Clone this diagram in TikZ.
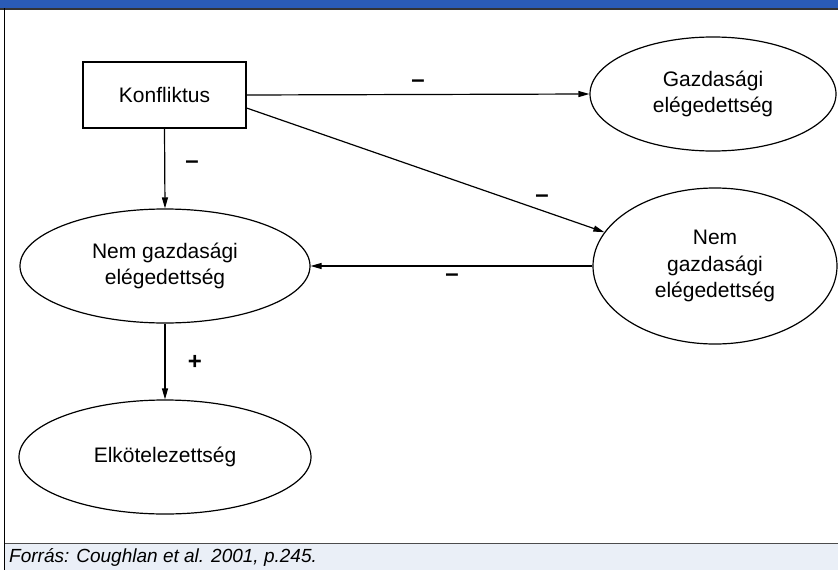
\documentclass[tikz,border=0pt]{standalone}
\usepackage{fontspec}
\setmainfont{Liberation Sans}
\usetikzlibrary{shapes.geometric,arrows.meta}
\definecolor{topblue}{HTML}{2A5BB6}
\definecolor{capbg}{HTML}{EAEFF7}
\tikzset{
  box/.style={draw, line width=1.2pt, rectangle, inner sep=0pt, minimum width=163pt, minimum height=66pt, font=\fontsize{21}{26}\selectfont},
  oval/.style={draw, line width=1.2pt, ellipse, inner sep=0pt, align=center, font=\fontsize{21}{26.5}\selectfont},
  conn/.style={line width=1.2pt, -{Triangle[length=11pt,width=6pt]}},
  sign/.style={font=\fontsize{24}{26}\selectfont\bfseries, inner sep=0pt}
}
\begin{document}
\begin{tikzpicture}[x=1pt,y=-1pt]
\useasboundingbox (0,0) rectangle (838,570);
% frame
\fill[topblue] (0,0) rectangle (838,8);
\draw[line width=1.2pt, black!80] (0,9) -- (838,9);
\fill[capbg] (5,543) rectangle (838,570);
\draw[line width=1pt, black!70] (5,543) -- (838,543);
\draw[line width=1.5pt] (4.5,8) -- (4.5,570);
% nodes
\node[box] (konf) at (164.5,95) {Konfliktus};
\node[oval, minimum width=246pt, minimum height=114pt] (gazd) at (713,94) {Gazdasági\\elégedettség};
\node[oval, minimum width=244pt, minimum height=156pt] (nemR) at (715,266) {Nem\\gazdasági\\elégedettség};
\node[oval, minimum width=290pt, minimum height=114pt] (nemL) at (165,266) {Nem gazdasági\\elégedettség};
\node[oval, minimum width=292pt, minimum height=114pt] (elk) at (165,457) {Elkötelezettség};
% connectors
\draw[conn] (konf.east) -- (gazd.west);
\draw[conn] (konf.-9) -- (nemR.163);
\draw[conn] (nemR.west) -- (nemL.east);
\draw[conn] (konf.south) -- (nemL.north);
\draw[conn] (nemL.south) -- (elk.north);
% signs
\node[sign] (s1) at (418,84) {–};
\node[sign] (s2) at (542,199) {–};
\node[sign] (s3) at (452,278) {–};
\node[sign] (s4) at (192,165) {–};
\node[sign] (s5) at (195,362) {+};
% caption
\node[anchor=west, inner sep=0pt, font=\fontsize{19}{22}\selectfont\itshape] (cap) at (9,557) {Forrás: Coughlan et al. 2001, p.245.};
\end{tikzpicture}
\end{document}
